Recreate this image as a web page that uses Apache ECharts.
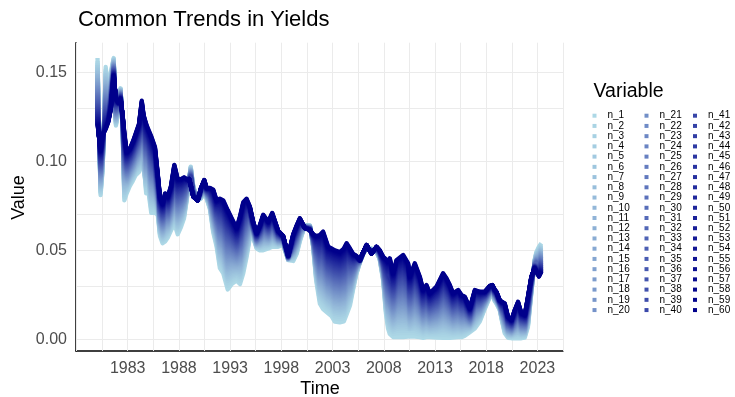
<!DOCTYPE html>
<html>
<head>
<meta charset="utf-8">
<script src="https://cdn.jsdelivr.net/npm/echarts@6/dist/echarts.min.js"></script>
<style>html,body{margin:0;padding:0;background:#fff}#c{width:735px;height:397px}</style>
</head>
<body>
<div id="c"></div>
<script>
// ---- data ----
const dates = [1980.05,1980.35,1980.55,1980.85,1981.1,1981.35,1981.63,1981.85,1982.08,1982.3,1982.5,1982.67,1982.9,1983.2,1983.5,1983.75,1984.1,1984.37,1984.55,1984.8,1985.0,1985.3,1985.66,1985.93,1986.15,1986.4,1986.65,1986.9,1987.22,1987.55,1987.88,1988.2,1988.5,1988.76,1989.0,1989.15,1989.4,1989.83,1990.15,1990.47,1990.7,1991.03,1991.35,1991.68,1992.0,1992.33,1992.76,1993.15,1993.63,1993.96,1994.28,1994.6,1994.93,1995.25,1995.59,1995.9,1996.23,1996.72,1997.11,1997.69,1998.18,1998.67,1999.16,1999.5,1999.81,2000.3,2000.79,2001.1,2001.4,2001.76,2002.08,2002.57,2002.9,2003.22,2003.71,2004.1,2004.37,2004.7,2005.01,2005.3,2005.66,2006.0,2006.32,2006.8,2007.29,2007.6,2007.94,2008.2,2008.42,2008.59,2008.91,2009.24,2009.89,2010.38,2010.54,2011.03,2011.52,2011.84,2012.17,2012.49,2013.15,2013.79,2014.12,2014.45,2014.77,2015.26,2015.59,2015.91,2016.4,2016.89,2017.38,2017.86,2018.35,2018.6,2018.83,2019.0,2019.32,2019.55,2019.81,2020.13,2020.46,2020.79,2021.11,2021.44,2021.77,2022.08,2022.41,2022.73,2022.9,2023.15,2023.39];

// shortest maturity (n_1)
const shortRate = [0.158,0.081,0.095,0.153,0.140,0.150,0.158,0.120,0.128,0.141,0.118,0.078,0.082,0.086,0.089,0.092,0.094,0.098,0.100,0.082,0.084,0.071,0.071,0.070,0.058,0.054,0.055,0.057,0.061,0.065,0.059,0.063,0.068,0.078,0.090,0.097,0.086,0.078,0.079,0.082,0.079,0.073,0.060,0.052,0.040,0.037,0.028,0.031,0.033,0.031,0.037,0.046,0.057,0.057,0.051,0.050,0.050,0.051,0.052,0.052,0.053,0.0445,0.044,0.048,0.055,0.064,0.064,0.052,0.033,0.020,0.017,0.0146,0.013,0.0099,0.0095,0.010,0.014,0.019,0.028,0.036,0.043,0.048,0.051,0.051,0.049,0.045,0.033,0.015,0.006,0.003,0.0013,0.0013,0.0013,0.0015,0.0012,0.0015,0.0012,0.0008,0.0012,0.0012,0.001,0.0008,0.0008,0.0008,0.001,0.0012,0.0012,0.002,0.004,0.006,0.010,0.017,0.0235,0.025,0.0215,0.020,0.0165,0.010,0.0034,0.0008,0.0006,0.0006,0.0006,0.0006,0.001,0.007,0.026,0.0445,0.049,0.052,0.054];

// longest maturity (n_60)
const longRate = [0.121,0.106,0.115,0.118,0.122,0.129,0.148,0.135,0.133,0.135,0.126,0.116,0.105,0.107,0.111,0.115,0.121,0.134,0.126,0.121,0.118,0.114,0.108,0.093,0.080,0.076,0.082,0.080,0.086,0.098,0.090,0.090,0.091,0.090,0.090,0.0895,0.080,0.078,0.085,0.0895,0.085,0.085,0.084,0.078,0.079,0.078,0.0726,0.068,0.0624,0.069,0.077,0.079,0.0745,0.066,0.0596,0.064,0.070,0.066,0.071,0.061,0.058,0.047,0.059,0.064,0.068,0.0624,0.0614,0.059,0.058,0.0586,0.0605,0.052,0.051,0.050,0.049,0.051,0.054,0.051,0.048,0.047,0.0445,0.049,0.053,0.048,0.052,0.050,0.0464,0.045,0.0436,0.0455,0.037,0.0445,0.0474,0.0427,0.0352,0.0427,0.0352,0.0277,0.0305,0.0258,0.0296,0.0371,0.0343,0.0305,0.0258,0.0277,0.0249,0.024,0.0174,0.0277,0.0267,0.0267,0.030,0.0305,0.028,0.0267,0.022,0.021,0.0202,0.0127,0.0108,0.0165,0.0211,0.0146,0.0137,0.024,0.0352,0.0399,0.039,0.0352,0.038];

const yTicks = [0, 0.05, 0.10, 0.15];
const xTicks = [1983, 1988, 1993, 1998, 2003, 2008, 2013, 2018, 2023];
const yGrid = [0, 0.025, 0.05, 0.075, 0.10, 0.125, 0.15];
const xGrid = [1978, 1980.5, 1983, 1985.5, 1988, 1990.5, 1993, 1995.5, 1998, 2000.5, 2003, 2005.5, 2008, 2010.5, 2013, 2015.5, 2018, 2020.5, 2023, 2025.5];
const names = Array.from({length: 60}, (_, i) => 'n_' + (i + 1));

// ---- colour ramp (RGB) lightblue -> darkblue ----
const LOW = [173, 216, 230], HIGH = [0, 0, 139];
const colors = names.map((_, k) => {
  const t = k / 59;
  return '#' + LOW.map((v, i) => Math.round(v + t * (HIGH[i] - v)).toString(16).padStart(2, '0')).join('');
});

// position of each maturity between the two edge series
const weights = names.map((_, k) => Math.pow(k / 59, 0.75));

const FONT = '"Liberation Sans", Arial, Helvetica, sans-serif';

const series = names.map((nm, k) => ({
  type: 'line', name: nm, color: colors[k], z: 10,
  data: dates.map((d, i) => [d, shortRate[i] + weights[k] * (longRate[i] - shortRate[i])]),
  showSymbol: false, symbol: 'none', silent: true,
  lineStyle: {width: 4.3, color: colors[k], join: 'round', cap: 'butt'},
  itemStyle: {color: colors[k]}
}));

series.unshift({
  type: 'line', name: 'grid', data: [], z: 1, silent: true, symbol: 'none',
  markLine: {silent: true, symbol: 'none', animation: false, z: 1, label: {show: false},
    lineStyle: {color: '#ebebeb', width: 1, type: 'solid'},
    emphasis: {disabled: true},
    data: yGrid.map(v => ({yAxis: v})).concat(xGrid.map(v => ({xAxis: v})))}
});

function legendCol(start, left) {
  return {
    data: names.slice(start, start + 20), orient: 'vertical', left: left, top: 110.7,
    itemWidth: 4, itemHeight: 4, itemGap: 0.23, icon: 'rect', selectedMode: false,
    padding: 0,
    textStyle: {fontFamily: FONT, fontSize: 10, lineHeight: 10, color: '#000', padding: [0, 0, 0, 6]}
  };
}

const chart = echarts.init(document.getElementById('c'), null, {renderer: 'canvas'});
chart.setOption({
  animation: false,
  backgroundColor: '#fff',
  grid: {left: 76, right: 172, top: 42.7, bottom: 46, containLabel: false},
  xAxis: {type: 'value', min: 1977.95, max: 2025.5,
    axisLine: {show: true, onZero: false, lineStyle: {color: '#000', width: 1.5}},
    axisTick: {show: false}, splitLine: {show: false},
    axisLabel: {customValues: xTicks, formatter: v => String(v), fontFamily: FONT, fontSize: 16, color: '#4d4d4d', margin: 10}},
  yAxis: {type: 'value', min: -0.00657, max: 0.1666,
    axisLine: {show: true, onZero: false, lineStyle: {color: '#000', width: 1.5}},
    axisTick: {show: false}, splitLine: {show: false},
    axisLabel: {customValues: yTicks, formatter: v => v.toFixed(2), fontFamily: FONT, fontSize: 16, color: '#4d4d4d', margin: 9}},
  legend: [legendCol(0, 592.5), legendCol(20, 644.5), legendCol(40, 693)],
  graphic: [
    {type: 'text', x: 78, y: 20, style: {text: 'Common Trends in Yields', fontFamily: FONT, fontSize: 22, fill: '#000', verticalAlign: 'middle', align: 'left'}},
    {type: 'text', x: 593.5, y: 91.3, style: {text: 'Variable', fontFamily: FONT, fontSize: 19.5, fill: '#000', verticalAlign: 'middle', align: 'left'}},
    {type: 'text', x: 320, y: 389, style: {text: 'Time', fontFamily: FONT, fontSize: 18, fill: '#000', verticalAlign: 'middle', align: 'center'}},
    {type: 'text', x: 19, y: 197.5, rotation: Math.PI / 2, style: {text: 'Value', fontFamily: FONT, fontSize: 18, fill: '#000', verticalAlign: 'middle', align: 'center'}}
  ],
  series: series
});
</script>
</body>
</html>
